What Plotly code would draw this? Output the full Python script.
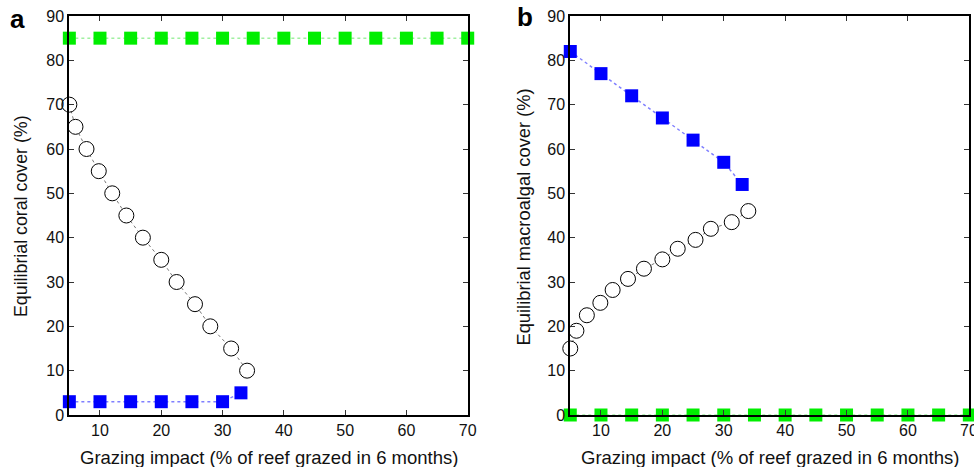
import plotly.graph_objects as go

# ---------- data ----------
grazing_full = [5, 10, 15, 20, 25, 30, 35, 40, 45, 50, 55, 60, 65, 70]

# panel a: coral cover
a_green_y = [85] * 14
a_circle_x = [5, 6, 7.8, 9.8, 12, 14.3, 17, 20, 22.5, 25.5, 28, 31.4, 34]
a_circle_y = [70, 65, 60, 55, 50, 45, 40, 35, 30, 25, 20, 15, 10]
a_blue_x = [5, 10, 15, 20, 25, 30, 33]
a_blue_y = [3, 3, 3, 3, 3, 3, 5]

# panel b: macroalgal cover
b_green_y = [0] * 14
b_circle_x = [5, 6, 7.7, 9.9, 11.9, 14.4, 17, 20, 22.5, 25.4, 27.9, 31.3, 34]
b_circle_y = [15, 19, 22.5, 25.3, 28.2, 30.7, 33, 35.1, 37.5, 39.5, 42, 43.5, 46]
b_blue_x = [5, 10, 15, 20, 25, 30, 33]
b_blue_y = [82, 77, 72, 67, 62, 57, 52]

x_ticks = [10, 20, 30, 40, 50, 60, 70]
y_ticks = [0, 10, 20, 30, 40, 50, 60, 70, 80, 90]

x_title = "Grazing impact (% of reef grazed in 6 months)"
a_y_title = "Equilibrial coral cover (%)"
b_y_title = "Equilibrial macroalgal cover (%)"

GREEN = "#00ee00"
BLUE = "#0000ff"
FONT = "Liberation Sans, Arial, Helvetica, sans-serif"

fig = go.Figure()


def add_panel(xa, ya, gx, gy, cx, cy, bx, by):
    fig.add_trace(go.Scatter(
        x=gx, y=gy, xaxis=xa, yaxis=ya, mode="lines+markers",
        line=dict(color="#a0f0a0", width=1.5, dash="dot"),
        marker=dict(symbol="square", size=13, color=GREEN),
        cliponaxis=False, showlegend=False))
    fig.add_trace(go.Scatter(
        x=bx, y=by, xaxis=xa, yaxis=ya, mode="lines+markers",
        line=dict(color="#8080ff", width=1.5, dash="dot"),
        marker=dict(symbol="square", size=13, color=BLUE),
        cliponaxis=False, showlegend=False))
    fig.add_trace(go.Scatter(
        x=cx, y=cy, xaxis=xa, yaxis=ya, mode="lines+markers",
        line=dict(color="#777777", width=1, dash="dot"),
        marker=dict(symbol="circle", size=15, color="white",
                    line=dict(color="black", width=1)),
        cliponaxis=False, showlegend=False))


add_panel("x", "y", grazing_full, a_green_y, a_circle_x, a_circle_y, a_blue_x, a_blue_y)
add_panel("x2", "y2", grazing_full, b_green_y, b_circle_x, b_circle_y, b_blue_x, b_blue_y)

axis_common = dict(
    showline=True, linecolor="black", linewidth=2, mirror="ticks",
    ticks="inside", ticklen=5, tickwidth=1.2, tickcolor="#333333",
    showgrid=False, zeroline=False, automargin=False,
    tickfont=dict(family=FONT, size=16, color="#111111"),
)

fig.update_layout(
    width=974, height=467,
    margin=dict(l=0, r=0, t=16, b=52, autoexpand=False),
    plot_bgcolor="white", paper_bgcolor="white",
    xaxis=dict(domain=[0.0712, 0.4802], range=[5, 70], tickvals=x_ticks,
               anchor="y", **axis_common),
    yaxis=dict(domain=[0, 1], range=[0, 90], tickvals=y_ticks,
               anchor="x", **axis_common),
    xaxis2=dict(domain=[0.5855, 0.9952], range=[5, 70], tickvals=x_ticks,
                anchor="y2", **axis_common),
    yaxis2=dict(domain=[0, 1], range=[0, 90], tickvals=y_ticks,
                anchor="x2", **axis_common),
)

# last tick label of panel b overflows the page edge (plotly hides it); draw it as text
fig.add_annotation(text=str(x_ticks[-1]), xref="x2", yref="paper", x=x_ticks[-1], y=0,
                   yshift=-15, showarrow=False, xanchor="center", yanchor="middle",
                   font=dict(family=FONT, size=16, color="#111111"))

ann_font = dict(family=FONT, size=18.5, color="#111111")
fig.add_annotation(text=x_title, xref="paper", yref="paper", x=0.2757, y=0,
                   yshift=-42, showarrow=False, font=ann_font,
                   xanchor="center", yanchor="middle")
fig.add_annotation(text=x_title, xref="paper", yref="paper", x=0.7904, y=0,
                   yshift=-42, showarrow=False, font=ann_font,
                   xanchor="center", yanchor="middle")
fig.add_annotation(text=a_y_title, xref="paper", yref="paper", x=20.5 / 974, y=0.5,
                   yshift=-1, textangle=-90, showarrow=False,
                   font=dict(family=FONT, size=17.8, color="#111111"),
                   xanchor="center", yanchor="middle")
fig.add_annotation(text=b_y_title, xref="paper", yref="paper", x=523 / 974, y=0.5,
                   yshift=-2, textangle=-90, showarrow=False,
                   font=dict(family=FONT, size=18.3, color="#111111"),
                   xanchor="center", yanchor="middle")
fig.add_annotation(text="<b>a</b>", xref="paper", yref="paper", x=17.5 / 974, y=1,
                   yshift=-2.5, showarrow=False, xanchor="center", yanchor="middle",
                   font=dict(family=FONT, size=26, color="black"))
fig.add_annotation(text="<b>b</b>", xref="paper", yref="paper", x=525 / 974, y=1,
                   yshift=-1, showarrow=False, xanchor="center", yanchor="middle",
                   font=dict(family=FONT, size=26, color="black"))

fig.write_html("out.html")
